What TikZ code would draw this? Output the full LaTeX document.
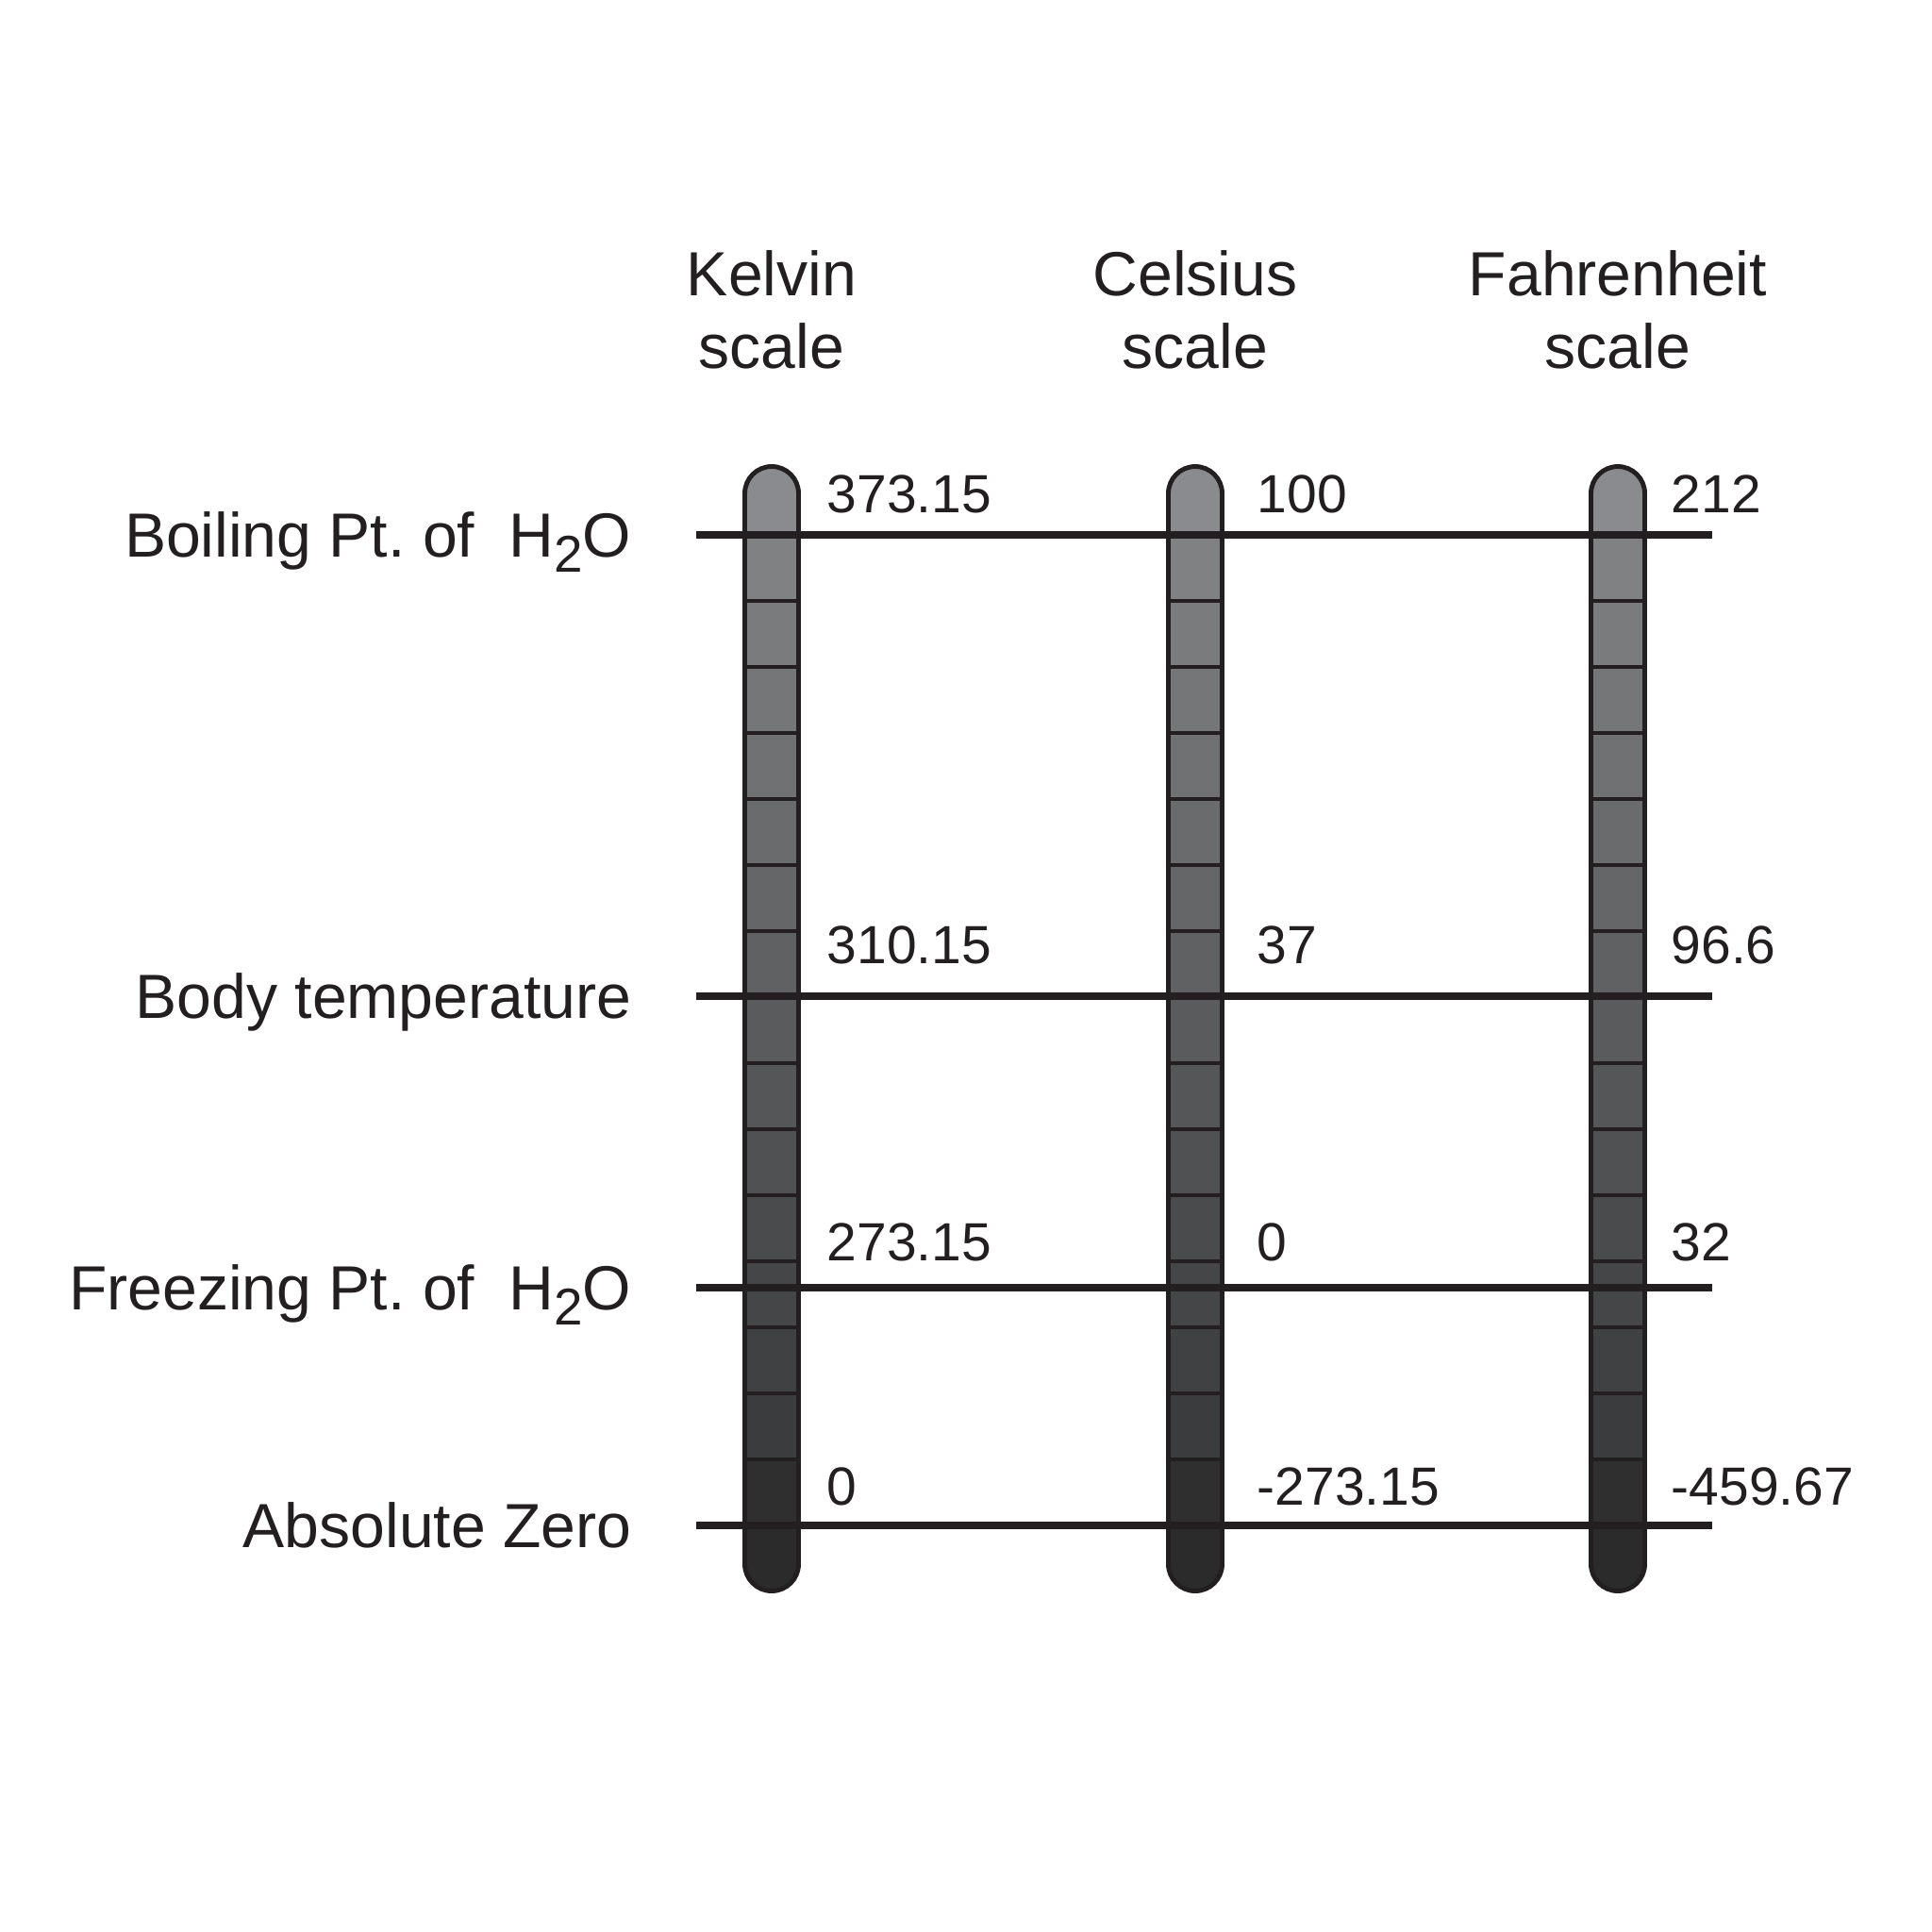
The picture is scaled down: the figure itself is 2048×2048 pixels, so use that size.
\documentclass[tikz,border=0pt]{standalone}
\usepackage{fontspec}
\setmainfont{Liberation Sans}
\frenchspacing
\definecolor{ink}{RGB}{35,31,32}
\newcommand{\hdrfont}{\fontsize{18.8pt}{22pt}\selectfont}
\newcommand{\numfont}{\fontsize{16.2pt}{19pt}\selectfont}
\newcommand{\water}{H\raisebox{-4.8pt}{\fontsize{15.6pt}{18pt}\selectfont 2}O}
\begin{document}
\begin{tikzpicture}[x=0.01cm,y=-0.01cm,
  hdr/.style={font=\hdrfont,text=ink,inner sep=0pt,anchor=base},
  lbl/.style={font=\hdrfont,text=ink,inner sep=0pt,anchor=base east},
  num/.style={font=\numfont,text=ink,inner sep=0pt,anchor=base west},
  tubeline/.style={draw=ink,line width=1.4pt},
  divider/.style={draw=ink,line width=1.15pt},
  level/.style={draw=ink,line width=2.5pt}]
\useasboundingbox (0,0) rectangle (2048,2048);
\fill[white] (0,0) rectangle (2048,2048);

% thermometer tubes
\foreach \cx/\nm in {818/tK,1267/tC,1715/tF}{
  \begin{scope}
    \clip[rounded corners=0.285cm] (\cx-28.5,494.5) rectangle (\cx+28.5,1686.5);
    % top cap
    \definecolor{segc}{RGB}{138,139,143}
    \fill[segc] (\cx-40,480) rectangle (\cx+40,567);
    \foreach \k in {1,...,14}{
      \pgfmathtruncatemacro{\v}{128-5.3*(\k-1)}
      \pgfmathtruncatemacro{\w}{\v+1}
      \pgfmathtruncatemacro{\u}{\v+2}
      \definecolor{segc}{RGB}{\v,\w,\u}
      \fill[segc] (\cx-40,{567+70*(\k-1)}) rectangle (\cx+40,{567+70*\k});
    }
    \definecolor{segc}{RGB}{47,47,47}
    \fill[segc] (\cx-40,1547) rectangle (\cx+40,1617);
    \definecolor{segc}{RGB}{43,43,43}
    \fill[segc] (\cx-40,1617) rectangle (\cx+40,1700);
    \foreach \k in {1,...,14}{
      \draw[divider] (\cx-40,{567+70*\k}) -- (\cx+40,{567+70*\k});
    }
  \end{scope}
  \draw[tubeline,rounded corners=0.285cm] (\cx-28.5,494.5) rectangle (\cx+28.5,1686.5);
  \coordinate (\nm) at (\cx,494.5);
}

% level lines
\coordinate (bL) at (738,567);  \coordinate (bR) at (1815,567);
\coordinate (hL) at (738,1056); \coordinate (hR) at (1815,1056);
\coordinate (fL) at (738,1365); \coordinate (fR) at (1815,1365);
\coordinate (zL) at (738,1617); \coordinate (zR) at (1815,1617);
\draw[level] (bL) -- (bR);
\draw[level] (hL) -- (hR);
\draw[level] (fL) -- (fR);
\draw[level] (zL) -- (zR);

% headers
\node[hdr] (k1) at (818,313) {Kelvin};
\node[hdr] (k2) at (818,390) {scale};
\node[hdr] (c1) at (1267,313) {Celsius};
\node[hdr] (c2) at (1267,390) {scale};
\node[hdr] (f1) at (1715,313) {Fahrenheit};
\node[hdr] (f2) at (1715,390) {scale};

% row labels
\node[lbl] (lb) at (670,590) {Boiling Pt. of\hspace{0.55em}\water};
\node[lbl] (lh) at (670,1079) {Body temperature};
\node[lbl] (lf) at (670,1388) {Freezing Pt. of\hspace{0.55em}\water};
\node[lbl] (lz) at (670,1640) {Absolute Zero};

% values
\node[num] (kb) at (876,543) {373.15};
\node[num] (cb) at (1332,543) {100};
\node[num] (fb) at (1771,543) {212};
\node[num] (kh) at (876,1021) {310.15};
\node[num] (ch) at (1332,1021) {37};
\node[num] (fh) at (1771,1021) {96.6};
\node[num] (kf) at (876,1336) {273.15};
\node[num] (cf) at (1332,1336) {0};
\node[num] (ff) at (1771,1336) {32};
\node[num] (kz) at (876,1595) {0};
\node[num] (cz) at (1332,1595) {-273.15};
\node[num] (fz) at (1771,1595) {-459.67};
\end{tikzpicture}
\end{document}
